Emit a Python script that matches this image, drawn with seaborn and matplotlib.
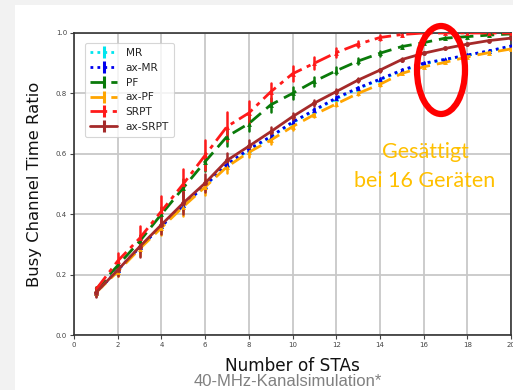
import numpy as np
import pandas as pd
import matplotlib
matplotlib.use("Agg")
import matplotlib.pyplot as plt
from matplotlib.patches import Rectangle, Ellipse
from matplotlib.lines import Line2D
import seaborn as sns

# ---- data ----
stas = list(range(1, 21))
series_names = ["MR", "ax-MR", "PF", "ax-PF", "SRPT", "ax-SRPT"]

mr = [0.14, 0.215, 0.29, 0.36, 0.43, 0.495, 0.563, 0.612, 0.655, 0.703,
      0.743, 0.782, 0.816, 0.845, 0.875, 0.898, 0.912, 0.926, 0.94, 0.955]
ax_mr = [0.14, 0.215, 0.29, 0.36, 0.43, 0.495, 0.565, 0.615, 0.657, 0.705,
         0.745, 0.785, 0.818, 0.847, 0.877, 0.90, 0.913, 0.927, 0.941, 0.957]
pf = [0.15, 0.23, 0.31, 0.40, 0.487, 0.574, 0.657, 0.70, 0.762, 0.80,
      0.84, 0.875, 0.907, 0.933, 0.955, 0.968, 0.983, 0.988, 0.993, 0.997]
ax_pf = [0.14, 0.21, 0.285, 0.355, 0.425, 0.49, 0.557, 0.605, 0.645, 0.69,
         0.73, 0.765, 0.80, 0.83, 0.866, 0.888, 0.903, 0.921, 0.935, 0.947]
srpt = [0.15, 0.245, 0.32, 0.41, 0.50, 0.595, 0.69, 0.735, 0.805, 0.865,
        0.90, 0.935, 0.963, 0.985, 0.995, 1.0, 1.0, 1.0, 1.0, 1.0]
ax_srpt = [0.14, 0.215, 0.292, 0.365, 0.437, 0.503, 0.578, 0.625, 0.673, 0.723,
           0.768, 0.806, 0.844, 0.877, 0.912, 0.933, 0.949, 0.963, 0.975, 0.983]

err_mr = [0.01, 0.012, 0.015, 0.015, 0.015, 0.015, 0.012, 0.01, 0.008, 0.007,
          0.006, 0.005, 0.004, 0.004, 0.003, 0.003, 0.002, 0.002, 0.002, 0.001]
err_ax_mr = [0.01, 0.012, 0.015, 0.015, 0.015, 0.015, 0.012, 0.01, 0.008, 0.007,
             0.006, 0.005, 0.004, 0.004, 0.003, 0.003, 0.002, 0.002, 0.002, 0.001]
err_pf = [0.01, 0.015, 0.02, 0.025, 0.03, 0.03, 0.03, 0.025, 0.022, 0.02,
          0.015, 0.012, 0.01, 0.008, 0.005, 0.004, 0.003, 0.002, 0.002, 0.001]
err_ax_pf = [0.01, 0.015, 0.025, 0.025, 0.03, 0.025, 0.02, 0.015, 0.012, 0.01,
             0.008, 0.006, 0.005, 0.004, 0.003, 0.003, 0.002, 0.002, 0.001, 0.001]
err_srpt = [0.01, 0.025, 0.04, 0.05, 0.05, 0.05, 0.047, 0.04, 0.03, 0.025,
            0.02, 0.015, 0.01, 0.008, 0.005, 0.0, 0.0, 0.0, 0.0, 0.0]
err_ax_srpt = [0.015, 0.02, 0.035, 0.03, 0.035, 0.03, 0.025, 0.02, 0.015, 0.012,
               0.01, 0.008, 0.006, 0.005, 0.004, 0.003, 0.002, 0.002, 0.001, 0.001]

values = [mr, ax_mr, pf, ax_pf, srpt, ax_srpt]
errors = [err_mr, err_ax_mr, err_pf, err_ax_pf, err_srpt, err_ax_srpt]

colors = ["#00e5ee", "#0000ee", "#0a7a0a", "#ffa500", "#ff1a1a", "#a52a2a"]
styles = [(0, (1, 1.5)), (0, (1, 1.5)), (0, (5, 2.5)), (0, (5, 2.5)),
          (0, (6, 2, 1.5, 2)), "-"]
markers = ["^", "^", "^", "^", "^", "o"]

x_ticks = [0, 2, 4, 6, 8, 10, 12, 14, 16, 18, 20]
y_ticks = [0.0, 0.2, 0.4, 0.6, 0.8, 1.0]

# long table: one low and one high row per point; mean = value, range = error bar
rows = []
for name, vals, errs in zip(series_names, values, errors):
    for xv, v, e in zip(stas, vals, errs):
        rows.append({"STAs": xv, "ratio": v - e, "series": name})
        rows.append({"STAs": xv, "ratio": v + e, "series": name})
df = pd.DataFrame(rows)

sns.set_theme(style="whitegrid")
plt.rcParams["font.family"] = ["DejaVu Sans"]

fig = plt.figure(figsize=(5.13, 3.90), dpi=100)
fig.patch.set_facecolor("#f2f2f2")
fig.add_artist(Rectangle((15 / 513, 0), 1, 1 - 5 / 390, transform=fig.transFigure,
                         facecolor="white", edgecolor="none", zorder=0))

ax = fig.add_axes([74 / 513, 1 - 335 / 390, 437 / 513, 302 / 390])
ax.set_facecolor("white")

for i, name in enumerate(series_names):
    sub = df[df["series"] == name]
    sns.lineplot(data=sub, x="STAs", y="ratio", ax=ax, estimator="mean",
                 errorbar=lambda v: (v.min(), v.max()), err_style="bars",
                 color=colors[i], linestyle=styles[i], linewidth=2.0,
                 marker=markers[i], markersize=3.5, markeredgewidth=0,
                 err_kws={"linewidth": 1.8, "capsize": 0},
                 label=name, legend=False, zorder=2 + i)

ax.set_xlim(0, 20)
ax.set_ylim(0, 1.0)
ax.set_xticks(x_ticks)
ax.set_yticks(y_ticks)
ax.set_xticklabels([str(t) for t in x_ticks])
ax.set_yticklabels([f"{t:.1f}" for t in y_ticks])
ax.tick_params(axis="both", labelsize=5, colors="#444444", length=3, width=0.8,
               pad=2, bottom=True, left=True)
ax.grid(True, color="#c8c8c8", linewidth=1.3)
for s in ax.spines.values():
    s.set_color("#333333")
    s.set_linewidth(1.2)

ax.set_xlabel("Number of STAs", fontsize=12.2, color="#111111")
ax.set_ylabel("Busy Channel Time Ratio", fontsize=11.8, color="#111111")
ax.xaxis.set_label_coords(0.5, -0.072)
ax.yaxis.set_label_coords(-0.073, 0.5)

handles = [Line2D([], [], color=c, linestyle=st, linewidth=2.0, marker="|",
                  markersize=9, markeredgewidth=2.2) for c, st in zip(colors, styles)]
leg = ax.legend(handles, series_names, loc="upper left", bbox_to_anchor=(0.012, 0.985),
                fontsize=7.6, frameon=True, handlelength=2.6, borderpad=0.5,
                labelspacing=0.45, handletextpad=0.8)
leg.get_frame().set_edgecolor("#cccccc")
leg.get_frame().set_linewidth(0.8)

fig.text(425 / 513, 1 - 152 / 390, "Gesättigt", fontsize=15.5, color="#ffc000",
         ha="center", va="center", family=["Lato", "DejaVu Sans"])
fig.text(425 / 513, 1 - 181 / 390, "bei 16 Geräten", fontsize=15.5, color="#ffc000",
         ha="center", va="center", family=["Lato", "DejaVu Sans"])

fig.add_artist(Ellipse((441 / 513, 1 - 70 / 390), 48 / 513, 88 / 390,
                       transform=fig.transFigure, facecolor="none",
                       edgecolor="#ff0000", linewidth=4.5, zorder=20))

fig.text(288 / 513, 1 - 382 / 390, "40-MHz-Kanalsimulation*", fontsize=12,
         color="#808080", ha="center", va="center",
         family=["Liberation Sans", "DejaVu Sans"])

fig.savefig("out.png", dpi=100, facecolor=fig.get_facecolor())
